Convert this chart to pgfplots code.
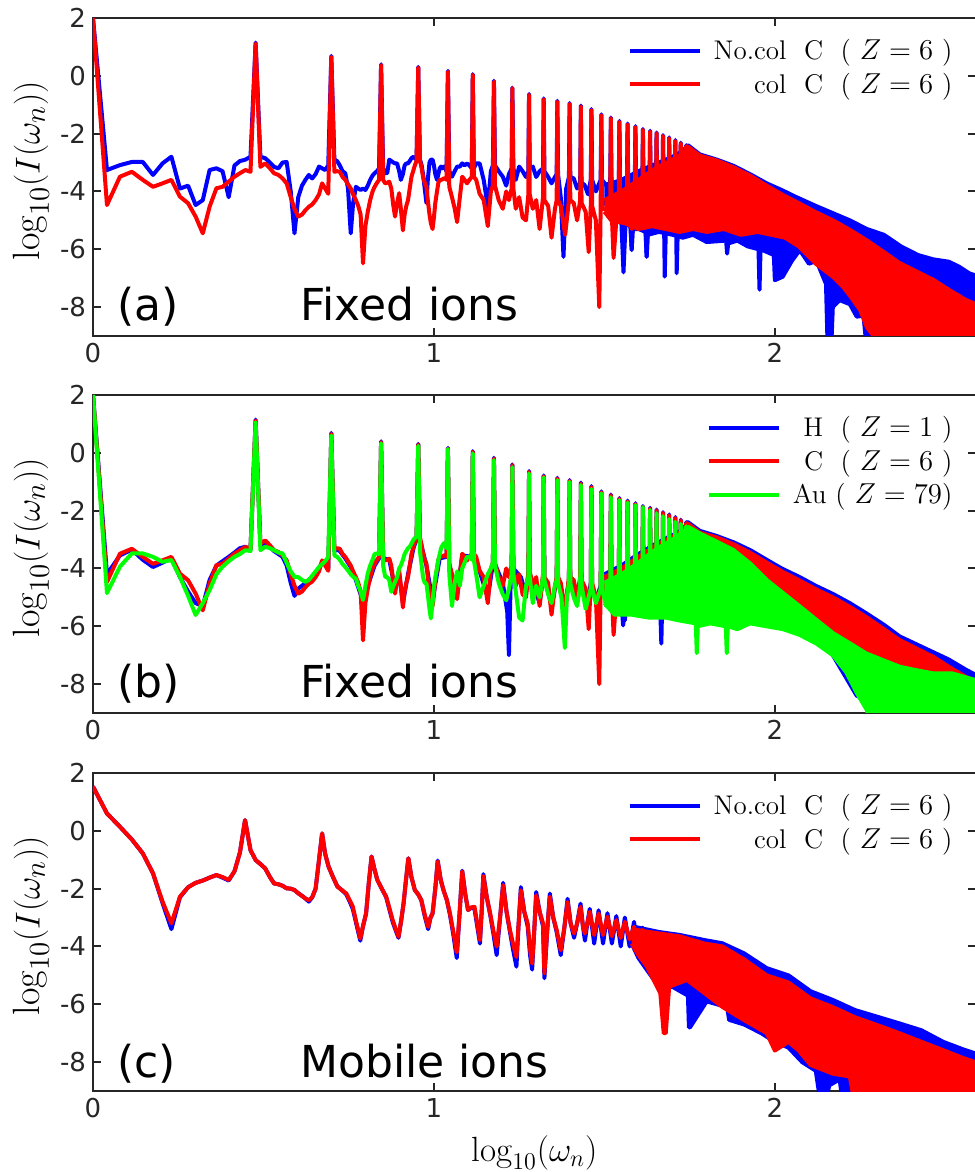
\documentclass[border=0pt]{standalone}
\usepackage{fontspec}
\usepackage{pgfplots}
\usepackage{pgfplotstable}
\pgfplotsset{compat=1.18}
\newfontfamily\tickfont{DejaVu Sans}
\definecolor{mblue}{RGB}{0,0,255}
\definecolor{mred}{RGB}{255,0,0}
\definecolor{mgreen}{RGB}{0,255,0}
\definecolor{axgray}{RGB}{38,38,38}
\tikzset{annot/.style={font=\tickfont\fontsize{22}{25}\selectfont, anchor=base west, inner sep=0pt}}

% ---------------- panel (a) / (b) red : col C (Z=6) ----------------
\pgfplotstableread[row sep=\\]{
x y\\
0 2\\ 0.041 -4.47\\ 0.079 -3.49\\ 0.114 -3.32\\ 0.146 -3.6\\ 0.176 -3.84\\ 0.204 -3.72\\ 0.230 -3.6\\ 0.255 -4.18\\ 0.279 -4.41\\ 0.301 -4.87\\ 0.322 -5.45\\ 0.342 -4.53\\ 0.362 -3.89\\ 0.380 -3.84\\ 0.398 -3.66\\ 0.415 -3.49\\ 0.431 -3.37\\ 0.447 -3.26\\ 0.462 -3.32\\
0.477 1.12\\
0.491 -3.15\\ 0.505 -3.03\\ 0.519 -3.2\\ 0.531 -3.37\\ 0.544 -3.43\\ 0.556 -3.55\\ 0.568 -3.72\\ 0.580 -4.2\\ 0.591 -4.6\\ 0.602 -4.87\\ 0.613 -4.8\\ 0.623 -4.65\\ 0.633 -4.53\\ 0.643 -4.45\\ 0.653 -4.3\\ 0.663 -4.1\\ 0.672 -3.72\\ 0.681 -3.9\\ 0.690 -4.08\\
0.699 0.66\\
0.708 -3.32\\ 0.716 -3.3\\ 0.724 -3.32\\ 0.732 -3.5\\ 0.740 -3.6\\ 0.748 -3.75\\ 0.756 -3.9\\ 0.763 -4.1\\ 0.771 -4.3\\ 0.778 -4.5\\ 0.785 -4.8\\ 0.792 -6.49\\ 0.799 -5.2\\ 0.806 -4.7\\ 0.813 -4.3\\ 0.820 -4.0\\ 0.826 -3.84\\ 0.833 -3.7\\ 0.839 -3.6\\
0.845 0.37\\
0.851 -3.6\\ 0.857 -3.72\\ 0.863 -3.7\\ 0.869 -3.66\\ 0.875 -3.9\\ 0.881 -4.5\\ 0.886 -4.87\\ 0.892 -4.4\\ 0.898 -4.06\\ 0.903 -4.6\\ 0.909 -5.35\\ 0.914 -4.8\\ 0.919 -4.5\\ 0.924 -4.3\\ 0.929 -3.9\\ 0.934 -3.5\\ 0.940 -3.26\\ 0.944 -3.1\\ 0.949 -2.95\\
0.954 0.28\\
0.959 -2.92\\ 0.964 -3.2\\ 0.968 -3.5\\ 0.973 -3.7\\ 0.978 -3.84\\ 0.982 -4.3\\ 0.987 -4.8\\ 0.991 -5.1\\ 0.996 -5.3\\ 1.0 -4.9\\ 1.004 -4.4\\ 1.009 -4.0\\ 1.013 -3.7\\ 1.017 -3.6\\ 1.021 -3.6\\ 1.025 -3.58\\ 1.029 -3.55\\ 1.033 -3.55\\ 1.037 -3.6\\
1.041 0.14\\
1.045 -3.84\\ 1.053 -4.2\\ 1.061 -4.6\\ 1.068 -5.06\\ 1.076 -4.2\\ 1.083 -3.49\\ 1.090 -3.6\\ 1.097 -3.72\\ 1.104 -3.6\\ 1.111 -3.5\\
1.114 0.03\\
1.117 -3.49\\ 1.124 -3.6\\ 1.134 -4.08\\ 1.146 -4.3\\ 1.158 -5.2\\ 1.167 -4.0\\ 1.173 -3.8\\
1.176 -0.2\\
1.179 -3.8\\ 1.190 -4.3\\ 1.202 -4.6\\ 1.212 -4.0\\ 1.220 -4.3\\ 1.228 -3.9\\
1.230 -0.43\\
1.233 -3.9\\ 1.240 -4.6\\ 1.250 -4.2\\ 1.260 -4.9\\ 1.270 -5.0\\ 1.277 -4.1\\
1.279 -0.66\\
1.281 -4.1\\ 1.29 -4.6\\ 1.30 -4.3\\ 1.31 -5.3\\ 1.320 -4.2\\
1.322 -0.81\\
1.324 -4.3\\ 1.335 -4.5\\ 1.345 -5.6\\ 1.355 -4.6\\ 1.360 -4.3\\
1.362 -0.89\\
1.364 -4.3\\ 1.372 -4.5\\ 1.385 -5.5\\ 1.396 -4.3\\
1.398 -0.97\\
1.400 -4.3\\ 1.410 -4.4\\ 1.420 -5.0\\ 1.429 -4.3\\
1.431 -1.06\\
1.433 -4.4\\ 1.445 -4.7\\ 1.454 -6.1\\ 1.460 -4.5\\
1.462 -1.18\\
1.464 -4.5\\ 1.475 -5.0\\ 1.485 -8.0\\ 1.489 -4.6\\
1.491 -1.36\\
1.493 -4.6\\ 1.505 -4.6\\ 1.517 -4.5\\
1.519 -1.47\\
1.521 -4.6\\ 1.527 -6.3\\ 1.535 -5.0\\ 1.542 -4.5\\
1.544 -1.59\\
1.546 -4.6\\ 1.556 -4.9\\ 1.566 -4.5\\
1.568 -1.68\\
1.570 -4.6\\ 1.580 -5.3\\ 1.589 -4.6\\
1.591 -1.77\\
1.593 -4.6\\ 1.602 -5.0\\ 1.611 -4.6\\
1.613 -1.87\\
1.615 -4.6\\ 1.624 -5.2\\ 1.632 -4.7\\
1.634 -1.93\\
1.636 -4.7\\ 1.644 -5.0\\ 1.651 -4.7\\
1.653 -1.99\\
1.655 -4.7\\ 1.663 -5.2\\ 1.670 -4.7\\
1.672 -2.08\\
1.674 -4.8\\ 1.681 -5.3\\ 1.688 -4.8\\
1.690 -2.16\\
1.692 -4.8\\ 1.699 -5.2\\ 1.706 -4.8\\
1.708 -2.25\\
1.710 -4.8\\ 1.716 -5.3\\ 1.722 -4.9\\
1.724 -2.34\\
1.726 -4.9\\ 1.732 -5.3\\ 1.738 -4.9\\
1.740 -2.43\\
1.742 -4.9\\ 1.748 -5.3\\
}\redA
\pgfplotstableread[row sep=\\]{
x y\\
1.50 -4.3\\ 1.55 -4.0\\ 1.60 -3.6\\ 1.65 -3.2\\ 1.70 -2.9\\ 1.73 -2.7\\ 1.745 -2.45\\ 1.78 -2.76\\ 1.83 -2.93\\ 1.88 -3.17\\ 1.93 -3.47\\ 1.976 -3.8\\ 2.02 -4.1\\ 2.073 -4.42\\ 2.12 -4.72\\ 2.17 -5.0\\ 2.22 -5.33\\ 2.268 -5.68\\ 2.32 -6.1\\ 2.366 -6.48\\ 2.42 -6.8\\ 2.465 -7.06\\ 2.51 -7.4\\ 2.56 -7.75\\ 2.60 -7.95\\
2.60 -9.5\\ 2.30 -9.5\\ 2.29 -9.0\\ 2.27 -8.7\\ 2.25 -8.1\\ 2.22 -7.6\\ 2.20 -7.3\\ 2.17 -6.95\\ 2.12 -6.5\\ 2.07 -5.9\\ 2.03 -5.6\\ 1.99 -5.5\\ 1.95 -5.4\\ 1.90 -5.5\\ 1.85 -5.3\\ 1.80 -5.4\\ 1.76 -5.3\\ 1.72 -5.4\\ 1.68 -5.3\\ 1.64 -5.2\\ 1.60 -5.3\\ 1.56 -5.1\\ 1.52 -5.0\\ 1.50 -4.7\\
}\redAband

% ---------------- panel (a) blue : No.col C ----------------
\pgfplotstableread[row sep=\\]{
x y\\
0 2\\ 0.041 -3.26\\ 0.079 -3.09\\ 0.114 -2.98\\ 0.146 -2.98\\ 0.176 -3.43\\ 0.204 -3.03\\ 0.230 -2.8\\ 0.255 -3.9\\ 0.279 -3.8\\ 0.301 -4.47\\ 0.322 -4.3\\ 0.342 -3.26\\ 0.362 -3.2\\ 0.380 -3.3\\ 0.398 -4.2\\ 0.415 -3.1\\ 0.431 -2.95\\ 0.447 -2.9\\ 0.462 -2.8\\
0.477 1.15\\
0.491 -2.8\\ 0.505 -2.85\\ 0.519 -3.0\\ 0.531 -3.15\\ 0.544 -3.2\\ 0.556 -3.0\\ 0.568 -2.98\\ 0.580 -4.0\\ 0.591 -5.45\\ 0.602 -4.2\\ 0.613 -3.8\\ 0.623 -3.6\\ 0.633 -3.43\\ 0.643 -3.55\\ 0.653 -3.4\\ 0.663 -3.14\\ 0.672 -3.2\\ 0.681 -3.26\\ 0.690 -3.1\\
0.699 0.69\\
0.708 -2.9\\ 0.716 -2.95\\ 0.724 -3.1\\ 0.732 -3.3\\ 0.740 -3.37\\ 0.748 -3.9\\ 0.756 -5.45\\ 0.763 -4.4\\ 0.771 -3.84\\ 0.778 -3.9\\ 0.785 -3.95\\ 0.792 -3.9\\ 0.799 -3.95\\ 0.806 -3.8\\ 0.813 -3.6\\ 0.820 -3.45\\ 0.826 -3.37\\ 0.833 -3.3\\ 0.839 -3.2\\
0.845 0.4\\
0.851 -3.2\\ 0.857 -3.37\\ 0.863 -3.37\\ 0.869 -2.9\\ 0.875 -2.95\\ 0.881 -3.0\\ 0.886 -3.03\\ 0.892 -3.03\\ 0.898 -3.3\\ 0.903 -3.6\\ 0.909 -3.4\\ 0.914 -3.1\\ 0.919 -3.03\\ 0.924 -3.03\\ 0.929 -2.95\\ 0.934 -2.85\\ 0.940 -2.8\\ 0.944 -2.85\\ 0.949 -2.9\\
0.954 0.31\\
0.959 -2.9\\ 0.964 -3.1\\ 0.968 -3.4\\ 0.973 -3.9\\ 0.978 -4.4\\ 0.982 -3.6\\ 0.987 -3.0\\ 0.991 -2.9\\ 0.996 -2.9\\ 1.0 -3.1\\ 1.004 -3.4\\ 1.009 -3.6\\ 1.013 -3.4\\ 1.017 -3.2\\ 1.021 -3.14\\ 1.025 -3.2\\ 1.029 -3.14\\ 1.033 -3.2\\ 1.037 -3.3\\
1.041 0.17\\
1.045 -3.3\\ 1.053 -3.49\\ 1.061 -3.3\\ 1.068 -3.14\\ 1.076 -3.14\\ 1.083 -3.03\\ 1.090 -3.1\\ 1.097 -3.03\\ 1.104 -3.1\\ 1.111 -3.2\\
1.114 0.06\\
1.117 -3.2\\ 1.124 -3.03\\ 1.134 -3.03\\ 1.146 -3.6\\ 1.158 -4.53\\ 1.167 -3.3\\ 1.173 -3.1\\
1.176 -0.17\\
1.179 -3.1\\ 1.190 -3.3\\ 1.202 -3.49\\ 1.212 -3.8\\ 1.220 -3.4\\ 1.228 -3.2\\
1.230 -0.41\\
1.233 -3.2\\ 1.240 -3.6\\ 1.250 -3.14\\ 1.260 -3.3\\ 1.270 -3.5\\ 1.277 -3.3\\
1.279 -0.63\\
1.281 -3.2\\ 1.29 -3.14\\ 1.30 -3.5\\ 1.31 -3.3\\ 1.320 -3.2\\
1.322 -0.78\\
1.324 -3.3\\ 1.335 -3.5\\ 1.345 -3.72\\ 1.355 -3.5\\ 1.360 -3.4\\
1.362 -0.86\\
1.364 -3.4\\ 1.372 -4.2\\ 1.380 -6.26\\ 1.388 -3.9\\ 1.396 -3.5\\
1.398 -0.94\\
1.400 -3.5\\ 1.410 -3.55\\ 1.420 -3.9\\ 1.429 -3.7\\
1.431 -1.03\\
1.433 -3.7\\ 1.442 -3.78\\ 1.452 -4.1\\ 1.460 -3.6\\
1.462 -1.15\\
1.464 -3.6\\ 1.475 -4.0\\ 1.489 -3.6\\
1.491 -1.33\\
1.493 -3.6\\ 1.505 -3.78\\ 1.517 -3.7\\
1.519 -1.44\\
1.521 -3.7\\ 1.530 -4.24\\ 1.542 -3.9\\
1.544 -1.56\\
1.546 -4.0\\ 1.556 -6.8\\ 1.566 -4.0\\
1.568 -1.65\\
1.570 -3.9\\ 1.580 -6.0\\ 1.589 -3.9\\
1.591 -1.74\\
1.593 -3.9\\ 1.602 -4.6\\ 1.611 -3.9\\
1.613 -1.84\\
1.615 -3.9\\ 1.624 -6.26\\ 1.632 -4.0\\
1.634 -1.9\\
1.636 -4.0\\ 1.644 -4.8\\ 1.651 -4.0\\
1.653 -1.96\\
1.655 -4.1\\ 1.663 -4.9\\ 1.670 -4.1\\
1.672 -2.05\\
1.674 -4.2\\ 1.677 -6.95\\ 1.681 -4.9\\ 1.688 -4.2\\
1.690 -2.13\\
1.692 -4.2\\ 1.699 -5.0\\ 1.706 -4.3\\
1.708 -2.22\\
1.710 -4.3\\ 1.712 -6.83\\ 1.716 -5.0\\ 1.722 -4.3\\
1.724 -2.31\\
1.726 -4.3\\ 1.732 -5.0\\ 1.738 -4.4\\
1.740 -2.4\\
1.742 -4.4\\ 1.748 -5.0\\
}\blueA
\pgfplotstableread[row sep=\\]{
x y\\
1.50 -3.8\\ 1.55 -3.6\\ 1.60 -3.3\\ 1.65 -3.05\\ 1.70 -2.8\\ 1.73 -2.6\\ 1.745 -2.4\\ 1.78 -2.72\\ 1.83 -2.9\\ 1.88 -3.12\\ 1.93 -3.42\\ 1.976 -3.72\\ 2.02 -3.95\\ 2.06 -4.18\\ 2.12 -4.5\\ 2.17 -4.75\\ 2.22 -5.0\\ 2.27 -5.3\\ 2.32 -5.5\\ 2.37 -5.9\\ 2.42 -6.2\\ 2.465 -6.35\\ 2.51 -6.43\\ 2.54 -6.6\\ 2.57 -6.83\\ 2.60 -6.95\\
2.60 -9.5\\ 2.27 -9.5\\ 2.26 -8.3\\ 2.24 -8.33\\ 2.22 -7.9\\ 2.19 -7.76\\ 2.17 -8.0\\ 2.165 -9.5\\ 2.155 -9.5\\ 2.15 -7.2\\ 2.122 -6.4\\ 2.10 -6.5\\ 2.073 -6.03\\ 2.05 -6.4\\ 2.023 -6.95\\ 2.0 -7.07\\ 1.997 -6.2\\ 1.958 -6.0\\ 1.955 -7.4\\ 1.952 -6.0\\ 1.92 -5.9\\ 1.89 -5.7\\ 1.863 -5.8\\ 1.86 -6.15\\ 1.857 -5.7\\ 1.80 -5.75\\ 1.76 -5.5\\ 1.73 -5.6\\ 1.70 -5.5\\ 1.66 -5.4\\ 1.627 -5.5\\ 1.624 -6.26\\ 1.621 -5.4\\ 1.60 -5.3\\ 1.583 -5.3\\ 1.58 -6.03\\ 1.577 -5.2\\ 1.54 -5.0\\ 1.51 -4.6\\ 1.50 -4.3\\
}\blueAband

% ---------------- panel (b) blue : H ----------------
\pgfplotstableread[row sep=\\]{
x y\\
0 2\\ 0.041 -4.2\\ 0.079 -3.55\\ 0.114 -3.35\\ 0.146 -3.7\\ 0.176 -3.95\\ 0.204 -3.8\\ 0.230 -3.65\\ 0.255 -4.3\\ 0.279 -4.8\\ 0.301 -5.2\\ 0.322 -5.3\\ 0.342 -4.4\\ 0.362 -3.9\\ 0.380 -3.75\\ 0.398 -3.6\\ 0.415 -3.45\\ 0.431 -3.3\\ 0.447 -3.25\\ 0.462 -3.35\\
0.477 1.15\\
0.491 -3.2\\ 0.505 -3.1\\ 0.519 -3.25\\ 0.531 -3.4\\ 0.544 -3.5\\ 0.556 -3.6\\ 0.568 -3.9\\ 0.580 -4.5\\ 0.591 -4.95\\ 0.602 -4.7\\ 0.613 -4.6\\ 0.623 -4.5\\ 0.633 -4.4\\ 0.643 -4.3\\ 0.653 -4.2\\ 0.663 -4.0\\ 0.672 -3.8\\ 0.681 -3.85\\ 0.690 -4.0\\
0.699 0.69\\
0.708 -3.4\\ 0.716 -3.35\\ 0.724 -3.4\\ 0.740 -3.65\\ 0.756 -3.95\\ 0.771 -4.4\\ 0.785 -4.9\\ 0.792 -5.1\\ 0.806 -4.6\\ 0.826 -3.9\\ 0.839 -3.65\\
0.845 0.4\\
0.851 -3.65\\ 0.869 -3.7\\ 0.886 -4.7\\ 0.898 -4.2\\ 0.909 -5.2\\ 0.924 -4.2\\ 0.940 -3.3\\ 0.949 -3.0\\
0.954 0.31\\
0.959 -3.0\\ 0.978 -3.9\\ 0.996 -5.1\\ 1.017 -3.65\\ 1.037 -3.6\\
1.041 0.17\\
1.045 -3.9\\ 1.068 -4.9\\ 1.083 -3.55\\ 1.111 -3.6\\
1.114 0.06\\
1.117 -3.55\\ 1.134 -4.1\\ 1.158 -5.0\\ 1.173 -3.85\\
1.176 -0.17\\
1.179 -3.85\\ 1.202 -4.5\\ 1.215 -5.5\\ 1.220 -7.0\\ 1.225 -4.5\\ 1.228 -4.0\\
1.230 -0.4\\
1.233 -4.0\\ 1.255 -4.3\\ 1.270 -4.9\\ 1.277 -4.2\\
1.279 -0.63\\
1.281 -4.2\\ 1.31 -5.2\\ 1.320 -4.3\\
1.322 -0.78\\
1.324 -4.3\\ 1.345 -5.3\\ 1.360 -4.4\\
1.362 -0.86\\
1.364 -4.4\\ 1.385 -5.3\\ 1.396 -4.4\\
1.398 -0.94\\
1.400 -4.4\\ 1.420 -5.0\\ 1.429 -4.4\\
1.431 -1.03\\
1.433 -4.5\\ 1.452 -5.2\\ 1.460 -4.5\\
1.462 -1.15\\
1.464 -4.6\\ 1.475 -5.1\\ 1.489 -4.6\\
1.491 -1.33\\
1.493 -4.6\\ 1.505 -4.7\\ 1.517 -4.6\\
1.519 -1.44\\
1.521 -4.6\\ 1.535 -5.0\\ 1.542 -4.6\\
1.544 -1.56\\
1.546 -4.6\\ 1.555 -5.97\\ 1.566 -4.6\\
1.568 -1.65\\
1.570 -4.7\\ 1.580 -5.2\\ 1.589 -4.7\\
1.591 -1.74\\
1.593 -4.7\\ 1.602 -5.0\\ 1.611 -4.7\\
1.613 -1.84\\
1.615 -4.7\\ 1.624 -5.1\\ 1.632 -4.7\\
1.634 -1.9\\
1.636 -4.7\\ 1.644 -5.0\\ 1.651 -4.7\\
1.653 -1.96\\
1.655 -4.7\\ 1.663 -5.1\\ 1.667 -6.6\\ 1.670 -4.9\\
1.672 -2.05\\
1.674 -4.9\\ 1.681 -5.2\\ 1.688 -4.8\\
1.690 -2.13\\
1.692 -4.8\\ 1.699 -5.2\\ 1.706 -4.8\\
1.708 -2.22\\
1.710 -4.8\\ 1.716 -5.2\\ 1.722 -4.9\\
1.724 -2.31\\
1.726 -4.9\\ 1.732 -5.2\\ 1.738 -4.9\\
1.740 -2.4\\
1.742 -4.9\\ 1.748 -5.2\\
}\blueB
\pgfplotstableread[row sep=\\]{
x y\\
1.50 -4.2\\ 1.55 -3.9\\ 1.60 -3.5\\ 1.65 -3.15\\ 1.70 -2.85\\ 1.73 -2.65\\ 1.745 -2.4\\ 1.78 -2.7\\ 1.83 -2.88\\ 1.88 -3.1\\ 1.93 -3.38\\ 1.976 -3.7\\ 2.02 -4.0\\ 2.073 -4.3\\ 2.12 -4.6\\ 2.17 -4.88\\ 2.22 -5.2\\ 2.268 -5.55\\ 2.32 -5.95\\ 2.366 -6.35\\ 2.42 -6.65\\ 2.465 -6.9\\ 2.51 -7.15\\ 2.56 -7.5\\ 2.60 -7.75\\
2.60 -9.5\\ 2.30 -9.5\\ 2.26 -8.5\\ 2.24 -8.4\\ 2.22 -8.0\\ 2.17 -7.0\\ 2.12 -6.5\\ 2.07 -5.9\\ 2.03 -5.6\\ 1.99 -5.5\\ 1.95 -5.4\\ 1.90 -5.5\\ 1.85 -5.3\\ 1.80 -5.4\\ 1.76 -5.3\\ 1.72 -5.4\\ 1.68 -5.3\\ 1.64 -5.2\\ 1.60 -5.3\\ 1.563 -5.3\\ 1.56 -5.8\\ 1.557 -5.3\\ 1.52 -5.0\\ 1.50 -4.7\\
}\blueBband

% ---------------- panel (b) green : Au ----------------
\pgfplotstableread[row sep=\\]{
x y\\
0 2\\ 0.041 -4.85\\ 0.079 -3.94\\ 0.114 -3.48\\ 0.146 -3.48\\ 0.176 -3.6\\ 0.204 -3.77\\ 0.230 -3.71\\ 0.255 -4.29\\ 0.279 -4.95\\ 0.301 -5.61\\ 0.322 -5.2\\ 0.342 -4.75\\ 0.362 -4.2\\ 0.380 -3.94\\ 0.398 -3.75\\ 0.415 -3.6\\ 0.431 -3.5\\ 0.447 -3.37\\ 0.462 -3.4\\
0.477 1.06\\
0.491 -3.37\\ 0.505 -3.25\\ 0.519 -3.3\\ 0.531 -3.37\\ 0.544 -3.45\\ 0.556 -3.48\\ 0.568 -3.8\\ 0.580 -4.1\\ 0.591 -4.29\\ 0.602 -4.3\\ 0.613 -4.4\\ 0.623 -4.46\\ 0.633 -4.4\\ 0.643 -4.25\\ 0.653 -4.1\\ 0.663 -3.95\\ 0.672 -3.85\\ 0.681 -3.75\\ 0.690 -3.6\\
0.699 0.6\\
0.708 -3.55\\ 0.716 -3.6\\ 0.724 -3.7\\ 0.732 -3.85\\ 0.740 -3.95\\ 0.748 -4.07\\ 0.756 -4.2\\ 0.763 -4.29\\ 0.771 -4.35\\ 0.778 -4.6\\ 0.785 -4.8\\ 0.792 -5.09\\ 0.799 -4.6\\ 0.806 -4.17\\ 0.813 -3.9\\ 0.820 -3.7\\ 0.826 -3.5\\ 0.833 -3.48\\ 0.839 -3.5\\
0.845 0.33\\
0.851 -3.9\\ 0.857 -4.29\\ 0.863 -4.3\\ 0.869 -4.4\\ 0.875 -4.81\\ 0.881 -4.6\\ 0.886 -4.46\\ 0.892 -4.3\\ 0.898 -4.0\\ 0.903 -3.9\\ 0.909 -3.7\\ 0.914 -3.5\\ 0.919 -3.4\\ 0.924 -3.3\\ 0.929 -3.25\\ 0.934 -3.15\\ 0.940 -3.0\\ 0.944 -2.95\\ 0.949 -2.9\\
0.954 0.24\\
0.959 -3.4\\ 0.964 -3.9\\ 0.968 -4.3\\ 0.973 -4.5\\ 0.978 -4.52\\ 0.982 -4.9\\ 0.987 -5.4\\ 0.991 -5.73\\ 0.996 -5.2\\ 1.0 -4.64\\ 1.004 -4.3\\ 1.009 -4.0\\ 1.013 -3.7\\ 1.017 -3.5\\ 1.021 -3.3\\ 1.025 -3.2\\ 1.029 -3.13\\ 1.033 -3.2\\ 1.037 -3.3\\
1.041 0.13\\
1.045 -4.2\\ 1.053 -5.3\\ 1.061 -4.5\\ 1.068 -4.1\\ 1.076 -4.6\\ 1.083 -4.0\\ 1.090 -3.8\\ 1.097 -3.6\\ 1.104 -3.6\\ 1.111 -3.7\\
1.114 -0.02\\
1.117 -3.7\\ 1.124 -4.2\\ 1.134 -5.0\\ 1.146 -4.6\\ 1.158 -4.2\\ 1.167 -4.0\\ 1.173 -3.8\\
1.176 -0.25\\
1.179 -3.9\\ 1.190 -4.5\\ 1.202 -4.9\\ 1.212 -5.1\\ 1.220 -4.7\\ 1.228 -4.2\\
1.230 -0.5\\
1.233 -4.2\\ 1.240 -4.8\\ 1.250 -5.7\\ 1.260 -5.8\\ 1.270 -4.6\\ 1.277 -4.3\\
1.279 -0.71\\
1.281 -4.3\\ 1.29 -5.2\\ 1.30 -4.6\\ 1.31 -5.0\\ 1.320 -4.3\\
1.322 -0.85\\
1.324 -4.4\\ 1.335 -4.9\\ 1.345 -5.2\\ 1.355 -4.6\\ 1.360 -4.4\\
1.362 -0.94\\
1.364 -4.5\\ 1.374 -5.0\\ 1.384 -6.75\\ 1.390 -5.0\\ 1.396 -4.5\\
1.398 -1.0\\
1.400 -4.5\\ 1.410 -5.0\\ 1.420 -5.3\\ 1.429 -4.6\\
1.431 -1.11\\
1.433 -4.6\\ 1.445 -5.4\\ 1.460 -4.7\\
1.462 -1.25\\
1.464 -4.7\\ 1.475 -5.2\\ 1.489 -4.7\\
1.491 -1.4\\
1.493 -4.7\\ 1.505 -5.3\\ 1.517 -4.7\\
1.519 -1.54\\
1.521 -4.8\\ 1.532 -5.3\\ 1.542 -4.8\\
1.544 -1.63\\
1.546 -4.8\\ 1.556 -5.4\\ 1.566 -4.8\\
1.568 -1.72\\
1.570 -4.8\\ 1.580 -5.3\\ 1.589 -4.9\\
1.591 -1.8\\
1.593 -4.9\\ 1.602 -5.4\\ 1.611 -4.9\\
1.613 -1.88\\
1.615 -4.9\\ 1.624 -5.5\\ 1.632 -5.0\\
1.634 -1.98\\
1.636 -5.0\\ 1.644 -5.5\\ 1.651 -5.0\\
1.653 -2.09\\
1.655 -5.0\\ 1.663 -5.5\\ 1.670 -5.0\\
1.672 -2.19\\
1.674 -5.0\\ 1.681 -5.6\\ 1.688 -5.0\\
1.690 -2.29\\
1.692 -5.0\\ 1.699 -5.6\\ 1.706 -5.1\\
1.708 -2.38\\
1.710 -5.1\\ 1.716 -5.6\\ 1.722 -5.1\\
1.724 -2.46\\
1.726 -5.1\\ 1.732 -5.6\\ 1.738 -5.1\\
1.740 -2.54\\
1.742 -5.2\\ 1.748 -5.7\\
}\greenB
\pgfplotstableread[row sep=\\]{
x y\\
1.50 -4.5\\ 1.55 -4.2\\ 1.60 -3.8\\ 1.65 -3.35\\ 1.70 -3.0\\ 1.73 -2.75\\ 1.746 -2.56\\ 1.78 -2.79\\ 1.829 -3.07\\ 1.878 -3.36\\ 1.927 -3.82\\ 1.976 -4.4\\ 2.025 -4.86\\ 2.074 -5.32\\ 2.122 -5.78\\ 2.171 -6.24\\ 2.22 -6.59\\ 2.268 -6.94\\ 2.317 -7.17\\ 2.366 -7.4\\ 2.415 -7.52\\ 2.464 -7.63\\ 2.52 -7.63\\ 2.60 -7.9\\
2.60 -9.5\\ 2.28 -9.5\\ 2.27 -8.9\\ 2.24 -8.3\\ 2.21 -7.6\\ 2.17 -7.0\\ 2.122 -6.6\\ 2.073 -6.3\\ 2.024 -6.1\\ 1.975 -6.0\\ 1.927 -5.9\\ 1.89 -6.1\\ 1.862 -6.0\\ 1.859 -6.93\\ 1.856 -6.0\\ 1.81 -5.9\\ 1.774 -6.0\\ 1.771 -6.93\\ 1.768 -5.9\\ 1.72 -5.8\\ 1.68 -5.7\\ 1.63 -5.7\\ 1.58 -5.6\\ 1.53 -5.6\\ 1.50 -5.2\\
}\greenBband

% ---------------- panel (c) red : col C, mobile ions ----------------
\pgfplotstableread[row sep=\\]{
x y\\
0 1.53\\ 0.041 0.6\\ 0.079 0.14\\ 0.114 -0.3\\ 0.146 -0.78\\ 0.176 -1.47\\ 0.204 -2.45\\ 0.230 -3.2\\ 0.255 -2.28\\ 0.279 -1.95\\ 0.301 -1.8\\ 0.322 -1.72\\ 0.342 -1.62\\ 0.362 -1.53\\ 0.380 -1.6\\ 0.398 -1.7\\ 0.415 -1.4\\ 0.431 -0.75\\ 0.446 0.37\\ 0.462 -0.67\\ 0.477 -1.01\\ 0.491 -1.15\\ 0.505 -1.3\\ 0.519 -1.6\\ 0.531 -1.82\\ 0.544 -1.85\\ 0.556 -1.9\\ 0.568 -1.99\\ 0.580 -2.0\\ 0.591 -2.05\\ 0.602 -2.16\\ 0.613 -2.25\\ 0.623 -2.34\\ 0.633 -2.4\\ 0.643 -2.3\\ 0.653 -2.0\\ 0.663 -1.0\\ 0.672 -0.09\\ 0.681 -0.8\\ 0.691 -1.24\\ 0.704 -1.6\\ 0.717 -1.93\\ 0.730 -2.05\\ 0.743 -2.17\\ 0.753 -2.4\\ 0.762 -2.62\\ 0.773 -3.2\\ 0.784 -3.72\\ 0.792 -3.3\\ 0.801 -2.86\\ 0.809 -1.8\\ 0.817 -0.89\\ 0.825 -1.3\\ 0.834 -1.7\\ 0.847 -2.0\\ 0.860 -2.28\\ 0.870 -2.7\\ 0.879 -3.09\\ 0.888 -3.4\\ 0.896 -3.66\\ 0.904 -3.1\\ 0.911 -2.51\\ 0.918 -1.7\\ 0.925 -0.95\\ 0.934 -1.6\\ 0.944 -2.05\\ 0.954 -2.2\\ 0.963 -2.4\\ 0.973 -2.9\\ 0.983 -3.32\\ 0.990 -3.0\\ 0.996 -2.86\\ 1.004 -2.0\\ 1.011 -1.06\\ 1.020 -1.7\\ 1.028 -2.05\\ 1.038 -2.4\\ 1.047 -2.86\\ 1.057 -3.5\\ 1.067 -4.2\\ 1.075 -2.9\\ 1.083 -1.41\\ 1.092 -2.2\\ 1.1 -2.74\\ 1.11 -2.65\\ 1.119 -2.63\\ 1.127 -3.2\\ 1.135 -3.78\\ 1.14 -2.8\\ 1.145 -1.56\\ 1.155 -2.3\\ 1.165 -2.86\\ 1.175 -3.5\\ 1.184 -4.0\\ 1.194 -3.0\\ 1.203 -1.88\\ 1.213 -2.8\\ 1.223 -3.43\\ 1.232 -3.9\\ 1.242 -4.36\\ 1.248 -3.3\\ 1.255 -2.06\\ 1.265 -2.8\\ 1.275 -3.2\\ 1.282 -4.1\\ 1.288 -4.59\\ 1.294 -3.5\\ 1.30 -2.23\\ 1.31 -2.8\\ 1.32 -3.2\\ 1.324 -4.93\\ 1.332 -3.5\\ 1.34 -2.28\\ 1.35 -3.0\\ 1.36 -3.43\\ 1.372 -4.13\\ 1.382 -3.4\\ 1.392 -2.46\\ 1.401 -3.2\\ 1.411 -3.55\\ 1.42 -3.2\\ 1.43 -2.63\\ 1.437 -3.3\\ 1.443 -3.55\\ 1.45 -3.2\\ 1.457 -2.8\\ 1.47 -3.6\\ 1.483 -2.86\\ 1.496 -3.6\\ 1.509 -2.97\\ 1.522 -3.65\\ 1.535 -3.09\\ 1.548 -3.7\\ 1.56 -3.15\\ 1.574 -3.75\\ 1.587 -3.32\\ 1.60 -4.24\\ 1.612 -3.43\\ 1.625 -4.7\\
}\redC
\pgfplotstableread[row sep=\\]{
x y\\
1.58 -3.4\\ 1.62 -3.48\\ 1.66 -3.55\\ 1.72 -3.65\\ 1.794 -3.9\\ 1.846 -4.0\\ 1.91 -4.45\\ 1.976 -5.0\\ 2.04 -5.25\\ 2.105 -5.8\\ 2.17 -6.1\\ 2.235 -6.45\\ 2.30 -6.72\\ 2.365 -7.0\\ 2.43 -7.3\\ 2.494 -7.59\\ 2.55 -7.85\\ 2.60 -8.05\\
2.60 -9.5\\ 2.28 -9.5\\ 2.27 -8.8\\ 2.255 -9.5\\ 2.235 -9.5\\ 2.22 -8.5\\ 2.17 -8.4\\ 2.105 -8.1\\ 2.07 -7.6\\ 2.04 -7.3\\ 2.0 -7.6\\ 1.976 -7.0\\ 1.91 -6.55\\ 1.846 -6.09\\ 1.794 -5.62\\ 1.742 -5.16\\ 1.69 -5.39\\ 1.68 -7.0\\ 1.674 -7.0\\ 1.664 -5.62\\ 1.625 -4.7\\ 1.60 -4.3\\ 1.58 -3.9\\
}\redCband

% ---------------- panel (c) blue : No.col C, mobile ions ----------------
\pgfplotstableread[row sep=\\]{
x y\\
0 1.53\\ 0.041 0.6\\ 0.079 0.14\\ 0.114 -0.3\\ 0.146 -0.78\\ 0.176 -1.47\\ 0.204 -2.5\\ 0.230 -3.4\\ 0.255 -2.3\\ 0.279 -1.95\\ 0.301 -1.8\\ 0.322 -1.72\\ 0.342 -1.62\\ 0.362 -1.53\\ 0.380 -1.62\\ 0.398 -1.72\\ 0.415 -1.4\\ 0.431 -0.75\\ 0.446 0.37\\ 0.462 -0.67\\ 0.477 -1.01\\ 0.491 -1.15\\ 0.505 -1.3\\ 0.519 -1.6\\ 0.531 -1.82\\ 0.544 -1.85\\ 0.556 -1.9\\ 0.568 -1.99\\ 0.580 -2.0\\ 0.591 -2.05\\ 0.602 -2.16\\ 0.613 -2.25\\ 0.623 -2.34\\ 0.633 -2.45\\ 0.643 -2.3\\ 0.653 -2.0\\ 0.663 -1.0\\ 0.672 -0.09\\ 0.681 -0.8\\ 0.691 -1.24\\ 0.704 -1.6\\ 0.717 -1.93\\ 0.730 -2.05\\ 0.743 -2.2\\ 0.753 -2.45\\ 0.762 -2.7\\ 0.773 -3.25\\ 0.784 -3.8\\ 0.792 -3.3\\ 0.801 -2.86\\ 0.809 -1.8\\ 0.817 -0.89\\ 0.825 -1.3\\ 0.834 -1.7\\ 0.847 -2.0\\ 0.860 -2.3\\ 0.870 -2.75\\ 0.879 -3.15\\ 0.888 -3.45\\ 0.896 -3.7\\ 0.904 -3.1\\ 0.911 -2.51\\ 0.918 -1.7\\ 0.925 -0.95\\ 0.934 -1.6\\ 0.944 -2.05\\ 0.954 -2.2\\ 0.963 -2.4\\ 0.973 -2.95\\ 0.983 -3.4\\ 0.990 -3.0\\ 0.996 -2.86\\ 1.004 -2.0\\ 1.011 -1.03\\ 1.020 -1.7\\ 1.028 -2.05\\ 1.038 -2.4\\ 1.047 -2.9\\ 1.057 -3.6\\ 1.067 -4.4\\ 1.075 -2.9\\ 1.083 -1.38\\ 1.092 -2.2\\ 1.1 -2.74\\ 1.11 -2.65\\ 1.119 -2.7\\ 1.127 -3.3\\ 1.135 -3.9\\ 1.14 -2.8\\ 1.145 -1.5\\ 1.155 -2.3\\ 1.165 -2.9\\ 1.175 -3.6\\ 1.184 -4.3\\ 1.194 -3.0\\ 1.203 -1.8\\ 1.213 -2.8\\ 1.223 -3.5\\ 1.232 -4.1\\ 1.242 -4.7\\ 1.248 -3.3\\ 1.255 -1.95\\ 1.265 -2.8\\ 1.275 -3.3\\ 1.282 -4.3\\ 1.288 -4.8\\ 1.294 -3.5\\ 1.30 -2.12\\ 1.31 -2.8\\ 1.32 -3.3\\ 1.324 -5.1\\ 1.332 -3.5\\ 1.34 -2.17\\ 1.35 -3.0\\ 1.36 -3.5\\ 1.372 -4.3\\ 1.382 -3.4\\ 1.392 -2.35\\ 1.401 -3.2\\ 1.411 -3.7\\ 1.42 -3.2\\ 1.43 -2.52\\ 1.437 -3.3\\ 1.443 -3.8\\ 1.45 -3.2\\ 1.457 -2.7\\ 1.47 -3.9\\ 1.483 -2.75\\ 1.496 -3.9\\ 1.509 -2.85\\ 1.522 -3.9\\ 1.535 -2.95\\ 1.548 -4.0\\ 1.56 -3.0\\ 1.574 -4.0\\ 1.587 -3.15\\ 1.60 -4.4\\ 1.612 -3.35\\ 1.625 -4.8\\
}\blueC
\pgfplotstableread[row sep=\\]{
x y\\
1.58 -3.3\\ 1.62 -3.4\\ 1.66 -3.5\\ 1.72 -3.6\\ 1.794 -3.78\\ 1.846 -3.89\\ 1.91 -4.24\\ 1.976 -4.75\\ 2.04 -5.0\\ 2.105 -5.55\\ 2.17 -5.85\\ 2.235 -6.2\\ 2.30 -6.43\\ 2.365 -6.66\\ 2.43 -6.9\\ 2.494 -7.3\\ 2.55 -7.55\\ 2.60 -7.75\\
2.60 -9.5\\ 2.20 -9.5\\ 2.19 -8.6\\ 2.16 -8.8\\ 2.145 -9.5\\ 2.135 -9.5\\ 2.12 -8.3\\ 2.08 -8.0\\ 2.04 -7.5\\ 2.0 -7.3\\ 1.96 -7.0\\ 1.91 -6.7\\ 1.869 -6.55\\ 1.866 -6.55\\ 1.86 -6.1\\ 1.80 -5.9\\ 1.751 -6.8\\ 1.748 -6.8\\ 1.745 -5.7\\ 1.70 -5.4\\ 1.66 -5.4\\ 1.63 -4.9\\ 1.60 -4.4\\ 1.58 -3.9\\
}\blueCband

\pgfplotsset{
  panel/.style={
    scale only axis, width=441.5pt, height=159pt,
    xmin=0, xmax=2.59, ymin=-9, ymax=2,
    xtick={0,1,2}, xticklabels={0,1,2},
    ytick={-8,-6,-4,-2,0,2}, yticklabels={-8,-6,-4,-2,0,2},
    tick align=inside, major tick length=4pt,
    every tick/.style={axgray, line width=1pt},
    axis line style={axgray, line width=1.2pt},
    ticklabel style={font=\tickfont\fontsize{13}{15}\selectfont, text=axgray},
    ylabel={$\log_{10}(I(\omega_n))$},
    ylabel style={font=\fontsize{19}{22}\selectfont, at={(axis description cs:-0.0702,0.52)}, anchor=center},
    every axis plot/.append style={line width=2pt, line join=round},
    legend cell align=right,
    legend image code/.code={\draw[#1, line width=2pt] (0pt,0pt) -- (35pt,0pt); \path (38.5pt,0pt);},
    legend style={draw=none, fill=none, font=\fontsize{13.5}{15.5}\selectfont,
      at={(rel axis cs:0.9795,0.951)}, anchor=north east, inner sep=0pt,
      nodes={inner sep=2.6pt}},
  },
}

\begin{document}
\begin{tikzpicture}
\useasboundingbox (0,0) rectangle (487pt,586pt);

% ---------------- (a) ----------------
\begin{axis}[panel, at={(46.5pt,418pt)}, anchor=south west]
\addplot[mblue] table {\blueA};
\addlegendentry{No.col\ \ C\ \ (\ $Z=6$\ )}
\addplot[forget plot, draw=mblue, fill=mblue] table {\blueAband};
\addplot[mred] table {\redA};
\addlegendentry{col\ \ C\ \ (\ $Z=6$\ )}
\addplot[forget plot, draw=mred, fill=mred] table {\redAband};
\node[annot] at (axis cs:0.07,-8.45) {(a)};
\node[annot] at (axis cs:0.607,-8.45) {Fixed ions};
\end{axis}

% ---------------- (b) ----------------
\begin{axis}[panel, at={(46.5pt,229.5pt)}, anchor=south west]
\addplot[mblue] table {\blueB};
\addlegendentry{H\ \ (\ $Z=1$\ )}
\addplot[forget plot, draw=mblue, fill=mblue] table {\blueBband};
\addplot[mred] table {\redA};
\addlegendentry{C\ \ (\ $Z=6$\ )}
\addplot[forget plot, draw=mred, fill=mred] table {\redAband};
\addplot[mgreen] table {\greenB};
\addlegendentry{Au (\ $Z=79$)}
\addplot[forget plot, draw=mgreen, fill=mgreen] table {\greenBband};
\node[annot] at (axis cs:0.07,-8.45) {(b)};
\node[annot] at (axis cs:0.607,-8.45) {Fixed ions};
\end{axis}

% ---------------- (c) ----------------
\begin{axis}[panel, at={(46.5pt,40.5pt)}, anchor=south west,
  xlabel={$\log_{10}(\omega_n)$},
  xlabel style={font=\fontsize{17.5}{20}\selectfont, at={(axis description cs:0.5,0)}, yshift=-31pt, anchor=center}]
\addplot[mblue] table {\blueC};
\addlegendentry{No.col\ \ C\ \ (\ $Z=6$\ )}
\addplot[forget plot, draw=mblue, fill=mblue] table {\blueCband};
\addplot[mred] table {\redC};
\addlegendentry{col\ \ C\ \ (\ $Z=6$\ )}
\addplot[forget plot, draw=mred, fill=mred] table {\redCband};
\node[annot] at (axis cs:0.07,-8.52) {(c)};
\node[annot] at (axis cs:0.607,-8.52) {Mobile ions};
\end{axis}
\end{tikzpicture}
\end{document}
